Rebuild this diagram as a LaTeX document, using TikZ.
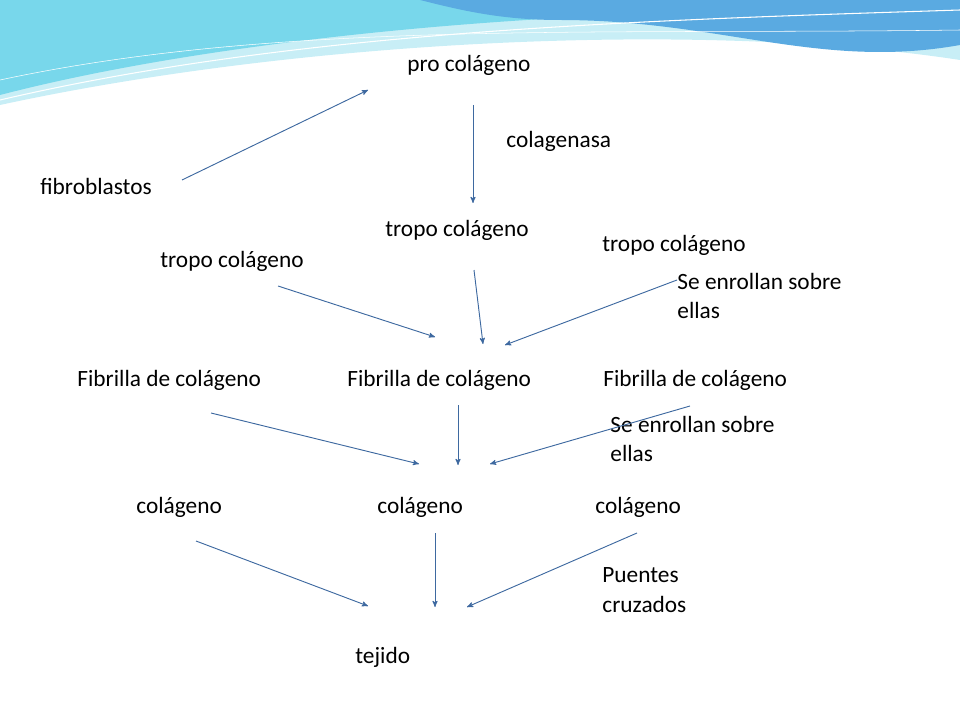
\documentclass[tikz,border=0pt]{standalone}
\usepackage{fontspec}
\setmainfont{Carlito}
\usetikzlibrary{arrows}
\definecolor{arrowblue}{RGB}{62,105,160}
\definecolor{wavecyan}{RGB}{120,215,235}
\definecolor{waveblue}{RGB}{90,170,225}
\definecolor{wavepale}{RGB}{200,238,246}
\begin{document}
\begin{tikzpicture}[x=0.75pt,y=-0.75pt,->,>=stealth',semithick,
    lbl/.style={anchor=west,inner sep=0pt,font=\fontsize{17.5}{22}\selectfont,align=left},
    flow/.style={draw=arrowblue,line width=0.7pt}]
  \useasboundingbox (0,0) rectangle (960,720);
  % background waves
  \fill[wavepale,-] (0,0) -- (960,0) -- (960,60) .. controls (700,20) and (300,40) .. (0,105) -- cycle;
  \fill[wavecyan,-] (0,0) -- (960,0) -- (960,15) .. controls (650,0) and (250,30) .. (0,95) -- cycle;
  \fill[waveblue,-] (420,0) -- (960,0) -- (960,45) .. controls (820,70) and (720,20) .. (560,20) .. controls (500,20) and (460,10) .. (420,0) -- cycle;
  \draw[white,thick,-] (0,100) .. controls (300,30) and (650,20) .. (960,10);
  \draw[white,thin,-] (0,80) .. controls (280,20) and (600,35) .. (960,30);
  % labels
  \node[lbl] (pro) at (407,65) {pro colágeno};
  \node[lbl] (enz) at (506,141) {colagenasa};
  \node[lbl] (fib) at (40,186) {fibroblastos};
  \node[lbl] (tropoB) at (385,230) {tropo colágeno};
  \node[lbl] (tropoR) at (602,245) {tropo colágeno};
  \node[lbl] (tropoL) at (160,261) {tropo colágeno};
  \node[lbl] (enrA) at (677,296) {Se enrollan sobre\\ellas};
  \node[lbl] (fibrL) at (77,380) {Fibrilla de colágeno};
  \node[lbl] (fibrM) at (347,380) {Fibrilla de colágeno};
  \node[lbl] (fibrR) at (603,380) {Fibrilla de colágeno};
  \node[lbl] (enrB) at (610,439) {Se enrollan sobre\\ellas};
  \node[lbl] (colL) at (136,507) {colágeno};
  \node[lbl] (colM) at (377,507) {colágeno};
  \node[lbl] (colR) at (595,507) {colágeno};
  \node[lbl] (pue) at (602,590) {Puentes\\cruzados};
  \node[lbl] (tej) at (355,657) {tejido};
  % arrow ends
  \coordinate (a1) at (182,180); \coordinate (b1) at (368,90);
  \coordinate (a2) at (473,105); \coordinate (b2) at (473,203);
  \coordinate (a3) at (278,286); \coordinate (b3) at (435,337);
  \coordinate (a4) at (474,270); \coordinate (b4) at (483,344);
  \coordinate (a5) at (677,280); \coordinate (b5) at (505,345);
  \coordinate (a6) at (211,413); \coordinate (b6) at (419,464);
  \coordinate (a7) at (458,405); \coordinate (b7) at (458,465);
  \coordinate (a8) at (690,406); \coordinate (b8) at (490,464);
  \coordinate (a9) at (196,541); \coordinate (b9) at (368,606);
  \coordinate (a10) at (435,533); \coordinate (b10) at (435,607);
  \coordinate (a11) at (637,533); \coordinate (b11) at (467,607);
  \foreach \i in {1,...,11}
    \draw[flow] (a\i) -- (b\i);
\end{tikzpicture}
\end{document}
